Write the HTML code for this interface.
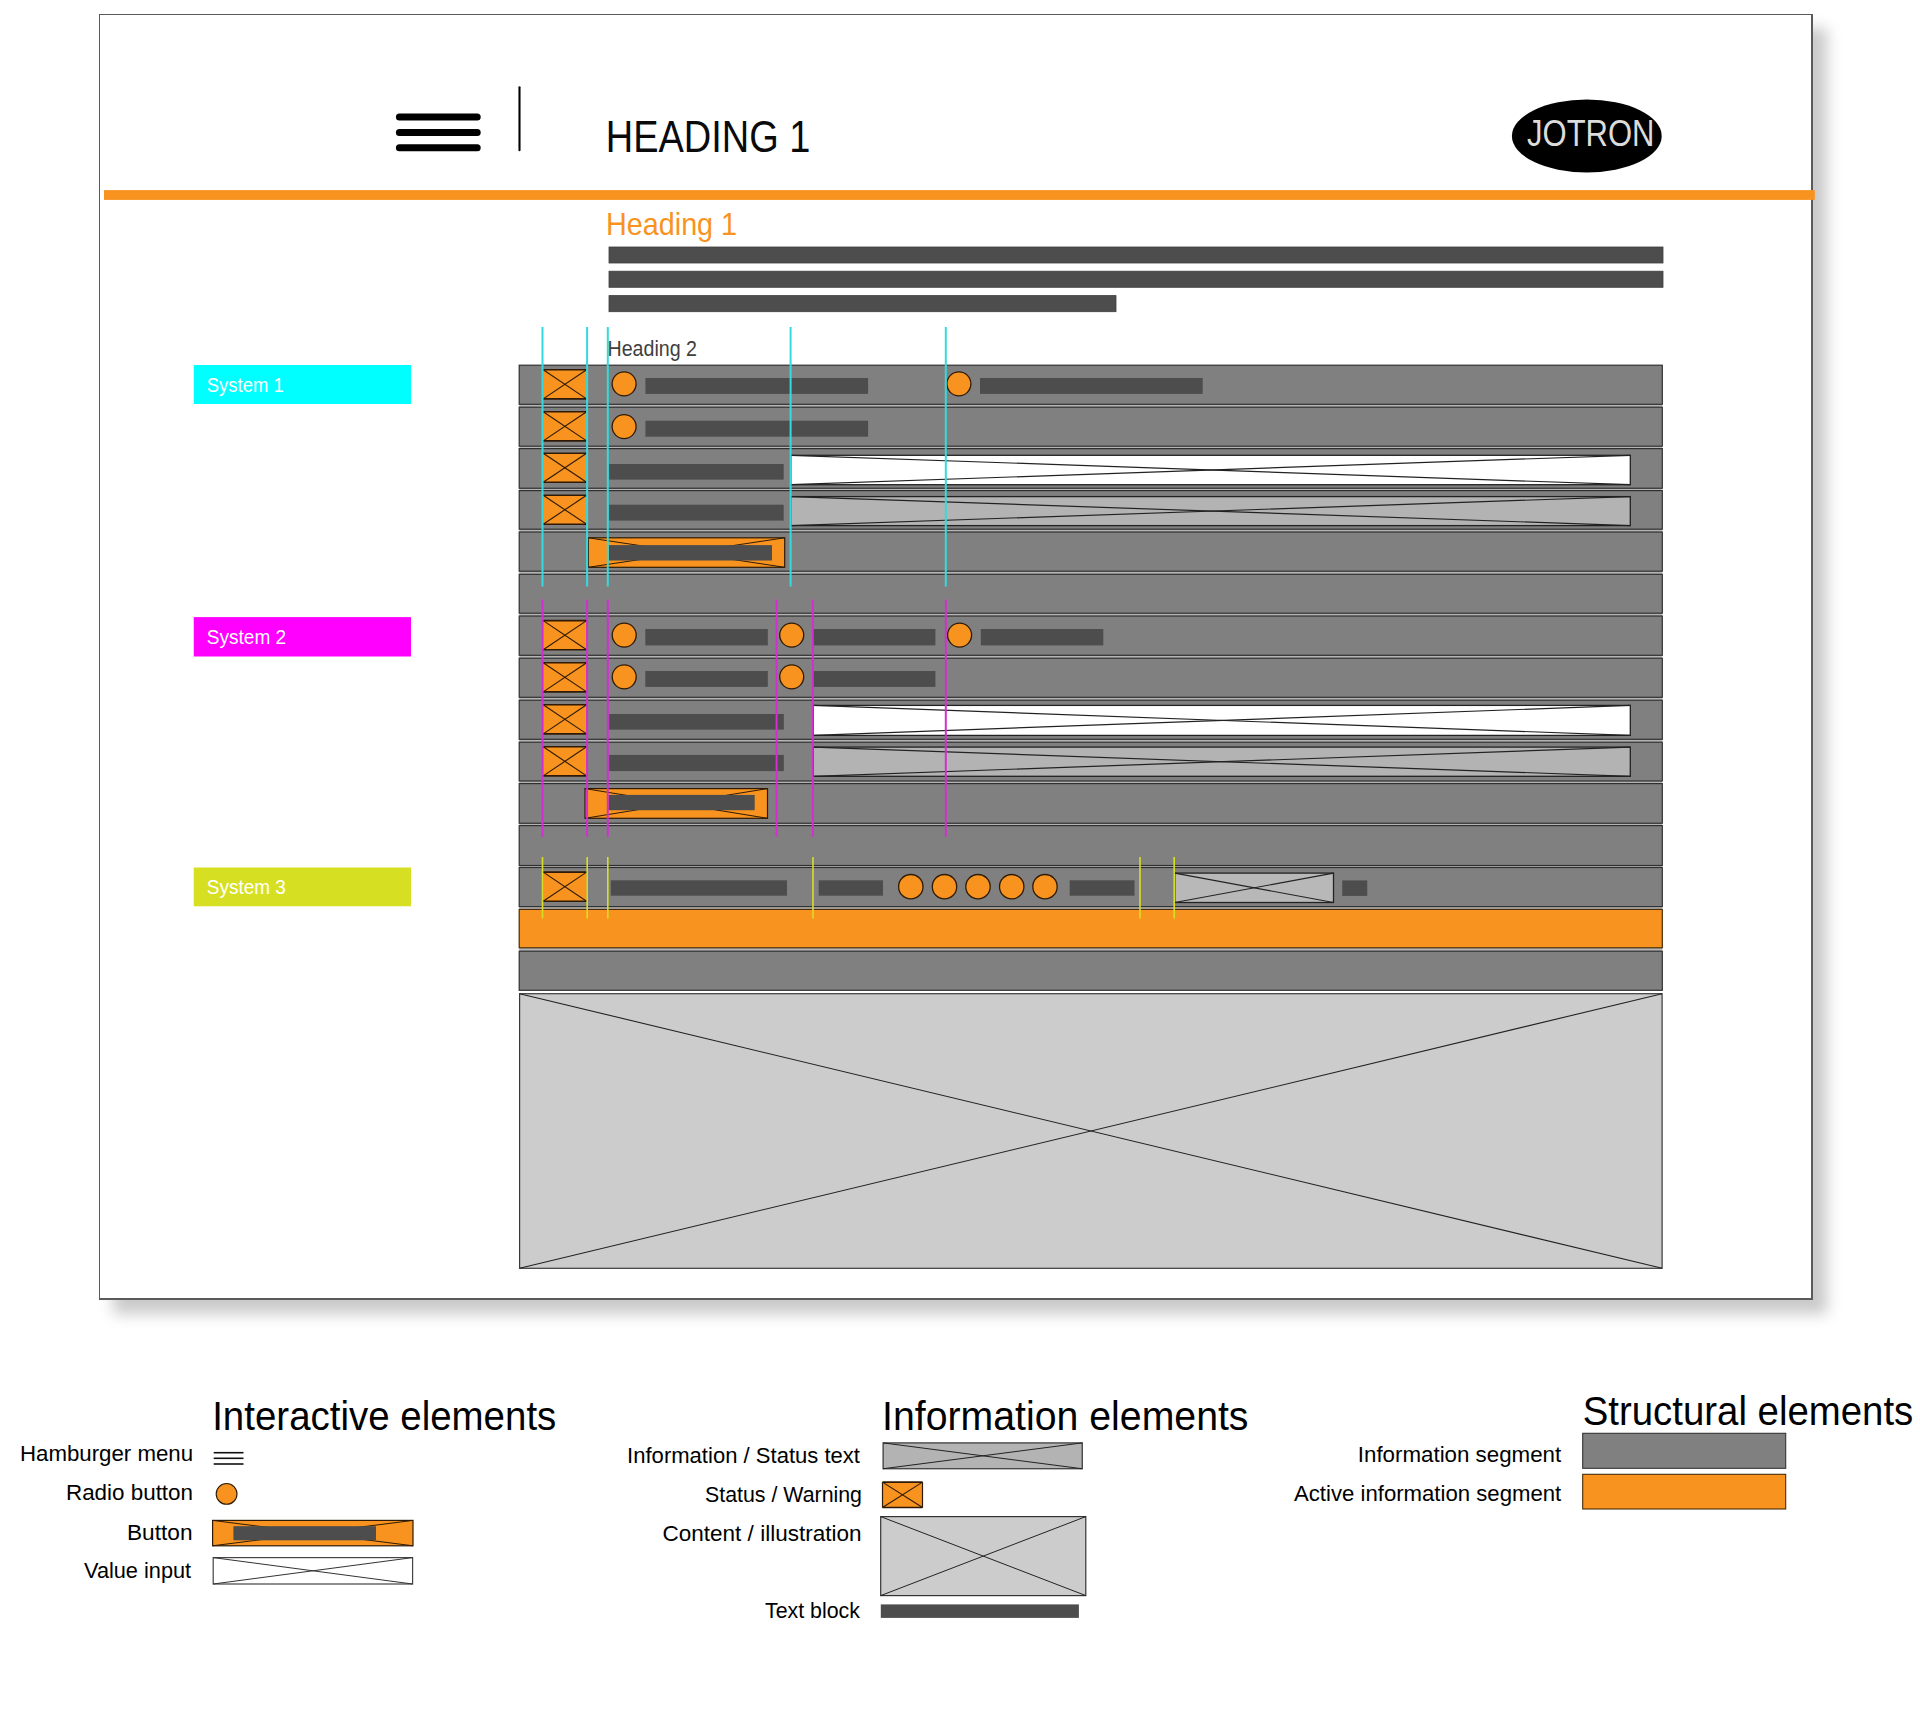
<!DOCTYPE html>
<html><head><meta charset="utf-8"><title>Jotron wireframe</title>
<style>
html,body{margin:0;padding:0;background:#fff;}
body{width:1920px;height:1727px;position:relative;overflow:hidden;}
.frame{position:absolute;left:99px;top:14px;width:1711px;height:1283px;border-style:solid;border-color:#5a5a5a;border-width:1px 2px 2px 1px;background:#fff;box-shadow:14px 14px 14px rgba(0,0,0,0.21);}
svg{position:absolute;left:0;top:0;}
text{font-family:"Liberation Sans",Arial,sans-serif;}
</style></head><body>
<div class="frame"></div>
<svg width="1920" height="1727" viewBox="0 0 1920 1727">
<line x1="399.4" y1="117.1" x2="477.2" y2="117.1" stroke="#000" stroke-width="7" stroke-linecap="round"/>
<line x1="399.4" y1="132.6" x2="477.2" y2="132.6" stroke="#000" stroke-width="7" stroke-linecap="round"/>
<line x1="399.4" y1="147.65" x2="477.2" y2="147.65" stroke="#000" stroke-width="7" stroke-linecap="round"/>
<line x1="519.5" y1="87.2" x2="519.5" y2="150.2" stroke="#000" stroke-width="2.1" stroke-linecap="round"/>
<text x="605.8" y="152.1" font-size="44.84" fill="#0a0a0a" textLength="204.6" lengthAdjust="spacingAndGlyphs">HEADING 1</text>
<ellipse cx="1586.8" cy="136.05" rx="74.9" ry="36.45" fill="#000"/>
<text x="1527" y="145.8" font-size="36.63" fill="#DCDCDC" textLength="127.5" lengthAdjust="spacingAndGlyphs">JOTRON</text>
<rect x="104" y="190.1" width="1710.8" height="9.8" fill="#F7931E"/>
<text x="606" y="234.6" font-size="31.76" fill="#F7931E" textLength="131.1" lengthAdjust="spacingAndGlyphs">Heading 1</text>
<rect x="609" y="247" width="1054" height="16" fill="#4D4D4D" stroke="#3e3e3e" stroke-width="0.8"/>
<rect x="609" y="271.2" width="1054" height="16.1" fill="#4D4D4D" stroke="#3e3e3e" stroke-width="0.8"/>
<rect x="609" y="295.6" width="507" height="16.1" fill="#4D4D4D" stroke="#3e3e3e" stroke-width="0.8"/>
<rect x="519.2" y="366" width="1143.1" height="624" fill="#B4B4B4"/>
<rect x="519.2" y="365.2" width="1143.1" height="39.1" fill="#808080" stroke="#303030" stroke-width="1.2"/>
<rect x="519.2" y="407.2" width="1143.1" height="39" fill="#808080" stroke="#303030" stroke-width="1.2"/>
<rect x="519.2" y="448.6" width="1143.1" height="39.65" fill="#808080" stroke="#303030" stroke-width="1.2"/>
<rect x="519.2" y="490.6" width="1143.1" height="38.6" fill="#808080" stroke="#303030" stroke-width="1.2"/>
<rect x="519.2" y="532" width="1143.1" height="39.2" fill="#808080" stroke="#303030" stroke-width="1.2"/>
<rect x="519.2" y="574.3" width="1143.1" height="38.9" fill="#808080" stroke="#303030" stroke-width="1.2"/>
<rect x="519.2" y="616" width="1143.1" height="39.3" fill="#808080" stroke="#303030" stroke-width="1.2"/>
<rect x="519.2" y="658.2" width="1143.1" height="39.1" fill="#808080" stroke="#303030" stroke-width="1.2"/>
<rect x="519.2" y="700.2" width="1143.1" height="39.1" fill="#808080" stroke="#303030" stroke-width="1.2"/>
<rect x="519.2" y="742.2" width="1143.1" height="38.8" fill="#808080" stroke="#303030" stroke-width="1.2"/>
<rect x="519.2" y="783.6" width="1143.1" height="39.65" fill="#808080" stroke="#303030" stroke-width="1.2"/>
<rect x="519.2" y="825.6" width="1143.1" height="39.9" fill="#808080" stroke="#303030" stroke-width="1.2"/>
<rect x="519.2" y="867.5" width="1143.1" height="39.1" fill="#808080" stroke="#303030" stroke-width="1.2"/>
<rect x="519.2" y="909.4" width="1143.1" height="38.4" fill="#F7931E" stroke="#4a2c08" stroke-width="1.2"/>
<rect x="519.2" y="951.2" width="1143.1" height="39.1" fill="#808080" stroke="#303030" stroke-width="1.2"/>
<rect x="519.6" y="993.7" width="1142.5" height="274.6" fill="#CCCCCC" stroke="#3a3a3a" stroke-width="1.2"/>
<line x1="519.6" y1="993.7" x2="1662.1" y2="1268.3" stroke="#222" stroke-width="1.1"/>
<line x1="519.6" y1="1268.3" x2="1662.1" y2="993.7" stroke="#222" stroke-width="1.1"/>
<rect x="193.75" y="365" width="217.25" height="39" fill="#00FFFF"/>
<text x="206.8" y="392.1" font-size="19.77" fill="#fff" textLength="77" lengthAdjust="spacingAndGlyphs">System 1</text>
<rect x="193.75" y="617.1" width="217.25" height="39.4" fill="#FF00FF"/>
<text x="206.8" y="644" font-size="19.77" fill="#fff" textLength="79.3" lengthAdjust="spacingAndGlyphs">System 2</text>
<rect x="193.75" y="867.5" width="217.25" height="38.75" fill="#D7DF23"/>
<text x="206.8" y="894" font-size="19.77" fill="#fff" textLength="79" lengthAdjust="spacingAndGlyphs">System 3</text>
<rect x="543.2" y="369.8" width="43.4" height="29.1" fill="#F7931E"/>
<line x1="543.2" y1="369.8" x2="586.6" y2="369.8" stroke="#2E1A06" stroke-width="1.6"/>
<line x1="543.2" y1="398.9" x2="586.6" y2="398.9" stroke="#2E1A06" stroke-width="1.6"/>
<line x1="543.2" y1="369.8" x2="586.6" y2="398.9" stroke="#2E1A06" stroke-width="1.1"/>
<line x1="543.2" y1="398.9" x2="586.6" y2="369.8" stroke="#2E1A06" stroke-width="1.1"/>
<rect x="543.2" y="411.8" width="43.4" height="29.1" fill="#F7931E"/>
<line x1="543.2" y1="411.8" x2="586.6" y2="411.8" stroke="#2E1A06" stroke-width="1.6"/>
<line x1="543.2" y1="440.9" x2="586.6" y2="440.9" stroke="#2E1A06" stroke-width="1.6"/>
<line x1="543.2" y1="411.8" x2="586.6" y2="440.9" stroke="#2E1A06" stroke-width="1.1"/>
<line x1="543.2" y1="440.9" x2="586.6" y2="411.8" stroke="#2E1A06" stroke-width="1.1"/>
<rect x="543.2" y="453.2" width="43.4" height="29.1" fill="#F7931E"/>
<line x1="543.2" y1="453.2" x2="586.6" y2="453.2" stroke="#2E1A06" stroke-width="1.6"/>
<line x1="543.2" y1="482.3" x2="586.6" y2="482.3" stroke="#2E1A06" stroke-width="1.6"/>
<line x1="543.2" y1="453.2" x2="586.6" y2="482.3" stroke="#2E1A06" stroke-width="1.1"/>
<line x1="543.2" y1="482.3" x2="586.6" y2="453.2" stroke="#2E1A06" stroke-width="1.1"/>
<rect x="543.2" y="495.2" width="43.4" height="29.1" fill="#F7931E"/>
<line x1="543.2" y1="495.2" x2="586.6" y2="495.2" stroke="#2E1A06" stroke-width="1.6"/>
<line x1="543.2" y1="524.3" x2="586.6" y2="524.3" stroke="#2E1A06" stroke-width="1.6"/>
<line x1="543.2" y1="495.2" x2="586.6" y2="524.3" stroke="#2E1A06" stroke-width="1.1"/>
<line x1="543.2" y1="524.3" x2="586.6" y2="495.2" stroke="#2E1A06" stroke-width="1.1"/>
<circle cx="624.1" cy="383.85" r="12" fill="#F7931E" stroke="#2E1A06" stroke-width="1.3"/>
<rect x="645.4" y="378" width="222.7" height="15.9" fill="#4D4D4D"/>
<circle cx="958.9" cy="383.85" r="12" fill="#F7931E" stroke="#2E1A06" stroke-width="1.3"/>
<rect x="980" y="378" width="222.7" height="15.9" fill="#4D4D4D"/>
<circle cx="624.1" cy="426.6" r="12" fill="#F7931E" stroke="#2E1A06" stroke-width="1.3"/>
<rect x="645.4" y="420.7" width="222.7" height="16" fill="#4D4D4D"/>
<rect x="609.2" y="464" width="174.5" height="15.65" fill="#4D4D4D"/>
<rect x="790.8" y="455.3" width="839.5" height="29.4" fill="#FFFFFF" stroke="#222" stroke-width="1.3"/>
<line x1="790.8" y1="455.3" x2="1630.3" y2="484.7" stroke="#222" stroke-width="1.2"/>
<line x1="790.8" y1="484.7" x2="1630.3" y2="455.3" stroke="#222" stroke-width="1.2"/>
<rect x="609.2" y="504.7" width="174.5" height="15.9" fill="#4D4D4D"/>
<rect x="790.8" y="496.6" width="839.5" height="29" fill="#B3B3B3" stroke="#222" stroke-width="1.3"/>
<line x1="790.8" y1="496.6" x2="1630.3" y2="525.6" stroke="#222" stroke-width="1.2"/>
<line x1="790.8" y1="525.6" x2="1630.3" y2="496.6" stroke="#222" stroke-width="1.2"/>
<rect x="588.3" y="537.8" width="196.4" height="29.5" fill="#F7931E" stroke="#2E1A06" stroke-width="1.2"/>
<line x1="588.3" y1="537.8" x2="784.7" y2="567.3" stroke="#2E1A06" stroke-width="1"/>
<line x1="588.3" y1="567.3" x2="784.7" y2="537.8" stroke="#2E1A06" stroke-width="1"/>
<rect x="609" y="545.1" width="163" height="15.4" fill="#4D4D4D"/>
<rect x="543.2" y="620.6" width="43.4" height="29.1" fill="#F7931E"/>
<line x1="543.2" y1="620.6" x2="586.6" y2="620.6" stroke="#2E1A06" stroke-width="1.6"/>
<line x1="543.2" y1="649.7" x2="586.6" y2="649.7" stroke="#2E1A06" stroke-width="1.6"/>
<line x1="543.2" y1="620.6" x2="586.6" y2="649.7" stroke="#2E1A06" stroke-width="1.1"/>
<line x1="543.2" y1="649.7" x2="586.6" y2="620.6" stroke="#2E1A06" stroke-width="1.1"/>
<rect x="543.2" y="662.8" width="43.4" height="29.1" fill="#F7931E"/>
<line x1="543.2" y1="662.8" x2="586.6" y2="662.8" stroke="#2E1A06" stroke-width="1.6"/>
<line x1="543.2" y1="691.9" x2="586.6" y2="691.9" stroke="#2E1A06" stroke-width="1.6"/>
<line x1="543.2" y1="662.8" x2="586.6" y2="691.9" stroke="#2E1A06" stroke-width="1.1"/>
<line x1="543.2" y1="691.9" x2="586.6" y2="662.8" stroke="#2E1A06" stroke-width="1.1"/>
<rect x="543.2" y="704.8" width="43.4" height="29.1" fill="#F7931E"/>
<line x1="543.2" y1="704.8" x2="586.6" y2="704.8" stroke="#2E1A06" stroke-width="1.6"/>
<line x1="543.2" y1="733.9" x2="586.6" y2="733.9" stroke="#2E1A06" stroke-width="1.6"/>
<line x1="543.2" y1="704.8" x2="586.6" y2="733.9" stroke="#2E1A06" stroke-width="1.1"/>
<line x1="543.2" y1="733.9" x2="586.6" y2="704.8" stroke="#2E1A06" stroke-width="1.1"/>
<rect x="543.2" y="746.8" width="43.4" height="29.1" fill="#F7931E"/>
<line x1="543.2" y1="746.8" x2="586.6" y2="746.8" stroke="#2E1A06" stroke-width="1.6"/>
<line x1="543.2" y1="775.9" x2="586.6" y2="775.9" stroke="#2E1A06" stroke-width="1.6"/>
<line x1="543.2" y1="746.8" x2="586.6" y2="775.9" stroke="#2E1A06" stroke-width="1.1"/>
<line x1="543.2" y1="775.9" x2="586.6" y2="746.8" stroke="#2E1A06" stroke-width="1.1"/>
<circle cx="624.2" cy="635.1" r="12" fill="#F7931E" stroke="#2E1A06" stroke-width="1.3"/>
<rect x="645.3" y="629" width="122.5" height="16.4" fill="#4D4D4D"/>
<circle cx="791.7" cy="635.1" r="12" fill="#F7931E" stroke="#2E1A06" stroke-width="1.3"/>
<rect x="813.1" y="629" width="122.3" height="16.4" fill="#4D4D4D"/>
<circle cx="624.2" cy="676.85" r="12" fill="#F7931E" stroke="#2E1A06" stroke-width="1.3"/>
<rect x="645.3" y="671" width="122.5" height="15.9" fill="#4D4D4D"/>
<circle cx="791.7" cy="676.85" r="12" fill="#F7931E" stroke="#2E1A06" stroke-width="1.3"/>
<rect x="813.1" y="671" width="122.3" height="15.9" fill="#4D4D4D"/>
<circle cx="959.6" cy="635.1" r="12" fill="#F7931E" stroke="#2E1A06" stroke-width="1.3"/>
<rect x="980.8" y="629" width="122.5" height="16.4" fill="#4D4D4D"/>
<rect x="609.2" y="714" width="174.6" height="15.65" fill="#4D4D4D"/>
<rect x="813.3" y="705.4" width="817" height="30" fill="#FFFFFF" stroke="#222" stroke-width="1.3"/>
<line x1="813.3" y1="705.4" x2="1630.3" y2="735.4" stroke="#222" stroke-width="1.2"/>
<line x1="813.3" y1="735.4" x2="1630.3" y2="705.4" stroke="#222" stroke-width="1.2"/>
<rect x="609.2" y="754.9" width="174.6" height="16.2" fill="#4D4D4D"/>
<rect x="813.3" y="747.1" width="817" height="29.2" fill="#B3B3B3" stroke="#222" stroke-width="1.3"/>
<line x1="813.3" y1="747.1" x2="1630.3" y2="776.3" stroke="#222" stroke-width="1.2"/>
<line x1="813.3" y1="776.3" x2="1630.3" y2="747.1" stroke="#222" stroke-width="1.2"/>
<rect x="585" y="788.6" width="182.5" height="29.7" fill="#F7931E" stroke="#2E1A06" stroke-width="1.2"/>
<line x1="585" y1="788.6" x2="767.5" y2="818.3" stroke="#2E1A06" stroke-width="1"/>
<line x1="585" y1="818.3" x2="767.5" y2="788.6" stroke="#2E1A06" stroke-width="1"/>
<rect x="608.7" y="794.9" width="146" height="15.3" fill="#4D4D4D"/>
<rect x="543.2" y="872.1" width="43.4" height="29.1" fill="#F7931E"/>
<line x1="543.2" y1="872.1" x2="586.6" y2="872.1" stroke="#2E1A06" stroke-width="1.6"/>
<line x1="543.2" y1="901.2" x2="586.6" y2="901.2" stroke="#2E1A06" stroke-width="1.6"/>
<line x1="543.2" y1="872.1" x2="586.6" y2="901.2" stroke="#2E1A06" stroke-width="1.1"/>
<line x1="543.2" y1="901.2" x2="586.6" y2="872.1" stroke="#2E1A06" stroke-width="1.1"/>
<rect x="610.8" y="880.3" width="176.2" height="15.4" fill="#4D4D4D"/>
<rect x="818.7" y="880.3" width="64.3" height="15.4" fill="#4D4D4D"/>
<circle cx="910.8" cy="886.7" r="12.2" fill="#F7931E" stroke="#2E1A06" stroke-width="1.3"/>
<circle cx="944.5" cy="886.7" r="12.2" fill="#F7931E" stroke="#2E1A06" stroke-width="1.3"/>
<circle cx="978" cy="886.7" r="12.2" fill="#F7931E" stroke="#2E1A06" stroke-width="1.3"/>
<circle cx="1011.7" cy="886.7" r="12.2" fill="#F7931E" stroke="#2E1A06" stroke-width="1.3"/>
<circle cx="1045" cy="886.7" r="12.2" fill="#F7931E" stroke="#2E1A06" stroke-width="1.3"/>
<rect x="1069.7" y="880.3" width="64.8" height="15.4" fill="#4D4D4D"/>
<rect x="1174.75" y="873.1" width="158.75" height="29.4" fill="#B8B8B8" stroke="#222" stroke-width="1.3"/>
<line x1="1174.75" y1="873.1" x2="1333.5" y2="902.5" stroke="#222" stroke-width="1.2"/>
<line x1="1174.75" y1="902.5" x2="1333.5" y2="873.1" stroke="#222" stroke-width="1.2"/>
<rect x="1342.25" y="880.4" width="25" height="15.5" fill="#4D4D4D"/>
<line x1="542.5" y1="326.9" x2="542.5" y2="586.5" stroke="#33DADF" stroke-width="2"/>
<line x1="587.1" y1="326.9" x2="587.1" y2="586.5" stroke="#33DADF" stroke-width="2"/>
<line x1="607.8" y1="326.9" x2="607.8" y2="586.5" stroke="#33DADF" stroke-width="2"/>
<line x1="790.6" y1="326.9" x2="790.6" y2="586.5" stroke="#33DADF" stroke-width="2"/>
<line x1="945.8" y1="326.9" x2="945.8" y2="586.5" stroke="#33DADF" stroke-width="2"/>
<line x1="542.5" y1="599.6" x2="542.5" y2="836.7" stroke="#D22ED2" stroke-width="2"/>
<line x1="587.1" y1="599.6" x2="587.1" y2="836.7" stroke="#D22ED2" stroke-width="2"/>
<line x1="607.8" y1="599.6" x2="607.8" y2="836.7" stroke="#D22ED2" stroke-width="2"/>
<line x1="776.6" y1="599.6" x2="776.6" y2="836.7" stroke="#D22ED2" stroke-width="2"/>
<line x1="812.8" y1="599.6" x2="812.8" y2="836.7" stroke="#D22ED2" stroke-width="2"/>
<line x1="945.8" y1="599.6" x2="945.8" y2="836.7" stroke="#D22ED2" stroke-width="2"/>
<line x1="542.5" y1="857" x2="542.5" y2="918.5" stroke="#D7DF23" stroke-width="1.6"/>
<line x1="587.2" y1="857" x2="587.2" y2="918.5" stroke="#D7DF23" stroke-width="1.6"/>
<line x1="607.8" y1="857" x2="607.8" y2="918.5" stroke="#D7DF23" stroke-width="1.6"/>
<line x1="813" y1="857" x2="813" y2="918.5" stroke="#D7DF23" stroke-width="1.6"/>
<line x1="1140" y1="857" x2="1140" y2="918.5" stroke="#D7DF23" stroke-width="1.6"/>
<line x1="1174.2" y1="857" x2="1174.2" y2="918.5" stroke="#D7DF23" stroke-width="1.6"/>
<text x="607.5" y="355.75" font-size="21.15" fill="#3f3f3f" textLength="89.5" lengthAdjust="spacingAndGlyphs">Heading 2</text>
<text x="212.2" y="1429.9" font-size="40.26" fill="#000" textLength="344.1" lengthAdjust="spacingAndGlyphs">Interactive elements</text>
<text x="882.1" y="1430.2" font-size="40.26" fill="#000" textLength="366.4" lengthAdjust="spacingAndGlyphs">Information elements</text>
<text x="1582.7" y="1425.1" font-size="40.26" fill="#000" textLength="330.6" lengthAdjust="spacingAndGlyphs">Structural elements</text>
<text x="20" y="1461" font-size="21.51" fill="#000" textLength="173.1" lengthAdjust="spacingAndGlyphs">Hamburger menu</text>
<line x1="213.7" y1="1452.7" x2="243.5" y2="1452.7" stroke="#111" stroke-width="1.6"/>
<line x1="213.7" y1="1458.3" x2="243.5" y2="1458.3" stroke="#111" stroke-width="1.6"/>
<line x1="213.7" y1="1464" x2="243.5" y2="1464" stroke="#111" stroke-width="1.6"/>
<text x="66" y="1499.5" font-size="21.51" fill="#000" textLength="127" lengthAdjust="spacingAndGlyphs">Radio button</text>
<circle cx="226.6" cy="1493.9" r="10.4" fill="#F7931E" stroke="#2a1a06" stroke-width="1.1"/>
<text x="127" y="1539.7" font-size="21.51" fill="#000" textLength="65.5" lengthAdjust="spacingAndGlyphs">Button</text>
<rect x="212.6" y="1520.4" width="200.4" height="25.4" fill="#F7931E" stroke="#2E1A06" stroke-width="1.2"/>
<line x1="212.6" y1="1520.4" x2="413" y2="1545.8" stroke="#2E1A06" stroke-width="1"/>
<line x1="212.6" y1="1545.8" x2="413" y2="1520.4" stroke="#2E1A06" stroke-width="1"/>
<rect x="233.4" y="1526.2" width="142.6" height="14.1" fill="#4D4D4D"/>
<text x="84" y="1577.8" font-size="21.51" fill="#000" textLength="107.1" lengthAdjust="spacingAndGlyphs">Value input</text>
<rect x="213.2" y="1557.6" width="199.4" height="26.4" fill="#FFFFFF" stroke="#444" stroke-width="1.2"/>
<line x1="213.2" y1="1557.6" x2="412.6" y2="1584" stroke="#333" stroke-width="1"/>
<line x1="213.2" y1="1584" x2="412.6" y2="1557.6" stroke="#333" stroke-width="1"/>
<text x="627.1" y="1462.9" font-size="21.51" fill="#000" textLength="232.9" lengthAdjust="spacingAndGlyphs">Information / Status text</text>
<rect x="883.1" y="1442.9" width="199.15" height="25.85" fill="#B3B3B3" stroke="#333" stroke-width="1.2"/>
<line x1="883.1" y1="1442.9" x2="1082.25" y2="1468.75" stroke="#222" stroke-width="1"/>
<line x1="883.1" y1="1468.75" x2="1082.25" y2="1442.9" stroke="#222" stroke-width="1"/>
<text x="705" y="1501.8" font-size="21.51" fill="#000" textLength="157" lengthAdjust="spacingAndGlyphs">Status / Warning</text>
<rect x="882.5" y="1482.1" width="40" height="25.4" fill="#F7931E"/>
<line x1="882.5" y1="1482.1" x2="922.5" y2="1482.1" stroke="#2E1A06" stroke-width="1.6"/>
<line x1="882.5" y1="1507.5" x2="922.5" y2="1507.5" stroke="#2E1A06" stroke-width="1.6"/>
<line x1="882.5" y1="1482.1" x2="882.5" y2="1507.5" stroke="#2E1A06" stroke-width="1.2"/>
<line x1="922.5" y1="1482.1" x2="922.5" y2="1507.5" stroke="#2E1A06" stroke-width="1.2"/>
<line x1="882.5" y1="1482.1" x2="922.5" y2="1507.5" stroke="#2E1A06" stroke-width="1.1"/>
<line x1="882.5" y1="1507.5" x2="922.5" y2="1482.1" stroke="#2E1A06" stroke-width="1.1"/>
<text x="662.5" y="1541.4" font-size="21.51" fill="#000" textLength="199" lengthAdjust="spacingAndGlyphs">Content / illustration</text>
<rect x="880.7" y="1516.6" width="205.1" height="79" fill="#CCCCCC" stroke="#333" stroke-width="1.2"/>
<line x1="880.7" y1="1516.6" x2="1085.8" y2="1595.6" stroke="#222" stroke-width="1"/>
<line x1="880.7" y1="1595.6" x2="1085.8" y2="1516.6" stroke="#222" stroke-width="1"/>
<text x="765" y="1617.9" font-size="21.51" fill="#000" textLength="95" lengthAdjust="spacingAndGlyphs">Text block</text>
<rect x="880.8" y="1604.4" width="198.1" height="13.5" fill="#4D4D4D"/>
<text x="1357.8" y="1461.7" font-size="21.51" fill="#000" textLength="203.4" lengthAdjust="spacingAndGlyphs">Information segment</text>
<rect x="1582.7" y="1433.3" width="203" height="35" fill="#808080" stroke="#333" stroke-width="1.1"/>
<text x="1294" y="1500.7" font-size="21.51" fill="#000" textLength="267.2" lengthAdjust="spacingAndGlyphs">Active information segment</text>
<rect x="1582.7" y="1474.3" width="203" height="34.7" fill="#F7931E" stroke="#4a2c08" stroke-width="1.1"/>
</svg>
</body></html>
